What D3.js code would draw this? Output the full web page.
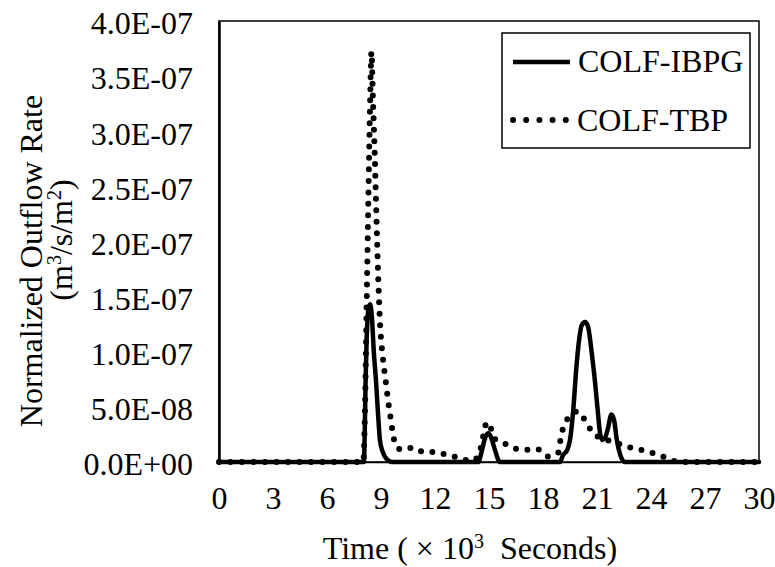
<!DOCTYPE html>
<html>
<head>
<meta charset="utf-8">
<script src="https://cdn.jsdelivr.net/npm/d3@7"></script>
<style>
  html, body { margin: 0; padding: 0; background: #fff; }
  svg { display: block; }
  text { font-family: "Liberation Serif", "Times New Roman", serif; fill: #000; }
</style>
</head>
<body>
<svg id="chart" width="775" height="567"></svg>
<script>
// ---- Data (time in 10^3 s, rate in m3/s/m2) ----
const ibpgTime = [0, 8.05, 8.1, 8.14, 8.2, 8.3, 8.4, 8.5, 8.6, 8.72, 8.85, 8.94, 9.1, 9.3, 9.6,
  14.4, 14.6, 14.75, 14.95, 15.1, 15.33, 15.6,
  18.95, 19.1, 19.35, 19.5, 19.68, 19.85, 20.0, 20.15, 20.33, 20.5, 20.7, 20.9, 21.05, 21.17, 21.3,
  21.45, 21.6, 21.8, 21.95, 22.1, 22.3, 22.55, 30];
const ibpgRate = [0, 0, 0.3e-7, 0.7e-7, 1.1e-7, 1.38e-7, 1.43e-7, 1.3e-7, 1.0e-7, 0.74e-7, 0.4e-7, 0.2e-7, 0.09e-7, 0.03e-7, 0,
  0, 0.1e-7, 0.2e-7, 0.26e-7, 0.23e-7, 0.11e-7, 0,
  0, 0.06e-7, 0.11e-7, 0.2e-7, 0.47e-7, 0.85e-7, 1.1e-7, 1.24e-7, 1.27e-7, 1.23e-7, 1.0e-7, 0.71e-7, 0.45e-7, 0.26e-7, 0.2e-7,
  0.22e-7, 0.3e-7, 0.43e-7, 0.38e-7, 0.2e-7, 0.06e-7, 0, 0];

const tbpTime = [0, 8.02, 8.1, 8.2, 8.3, 8.4, 8.47, 8.55, 8.65, 8.75, 8.85, 8.95, 9.1, 9.25, 9.4, 9.55, 9.7, 9.9,
  10.2, 10.8, 11.4, 12.1, 12.7, 13.3, 14.0, 14.4, 14.7, 14.87, 15.06, 15.25, 15.85, 16.5, 17.1, 17.7,
  18.24, 18.85, 18.95, 19.1, 19.28, 19.6, 19.9, 20.37, 20.74, 21.35, 22.0, 22.6, 23.2, 23.9, 24.5, 25.1, 25.6, 30];
const tbpRate = [0, 0, 0.4e-7, 1.4e-7, 2.4e-7, 3.3e-7, 3.72e-7, 3.3e-7, 2.8e-7, 2.2e-7, 1.65e-7, 1.25e-7, 0.95e-7, 0.75e-7, 0.55e-7, 0.38e-7, 0.22e-7, 0.13e-7,
  0.11e-7, 0.13e-7, 0.09e-7, 0.09e-7, 0.06e-7, 0.04e-7, 0.01e-7, 0.05e-7, 0.25e-7, 0.36e-7, 0.33e-7, 0.22e-7, 0.17e-7, 0.12e-7, 0.11e-7, 0.115e-7,
  0.05e-7, 0.085e-7, 0.18e-7, 0.3e-7, 0.37e-7, 0.42e-7, 0.46e-7, 0.37e-7, 0.27e-7, 0.21e-7, 0.18e-7, 0.14e-7, 0.12e-7, 0.09e-7, 0.06e-7, 0.02e-7, 0, 0];

const xTicks = [0, 3, 6, 9, 12, 15, 18, 21, 24, 27, 30];
const yTicks = [0, 0.5e-7, 1.0e-7, 1.5e-7, 2.0e-7, 2.5e-7, 3.0e-7, 3.5e-7, 4.0e-7];
const yTickLabels = ["0.0E+00", "5.0E-08", "1.0E-07", "1.5E-07", "2.0E-07", "2.5E-07", "3.0E-07", "3.5E-07", "4.0E-07"];
const seriesNames = ["COLF-IBPG", "COLF-TBP"];

// ---- Layout ----
const L = 219, R = 759, T = 21, B = 462;
const FS = 32;
const svg = d3.select("#chart");

const x = d3.scaleLinear().domain([0, 30]).range([L, R]);
const y = d3.scaleLinear().domain([0, 4e-7]).range([B, T]);

// frame
svg.append("rect").attr("x", L).attr("y", T).attr("width", R - L).attr("height", B - T)
  .attr("fill", "none").attr("stroke", "#000").attr("stroke-width", 1.5);

// x axis
const xAxis = d3.axisBottom(x).tickValues(xTicks).tickSize(0).tickPadding(0).tickFormat(d3.format("d"));
const gx = svg.append("g").attr("transform", `translate(0,${B})`).call(xAxis);
gx.select(".domain").attr("stroke", "#000").attr("stroke-width", 1.5);
gx.selectAll("text").attr("font-size", FS).attr("font-family", "Liberation Serif")
  .attr("y", 47).attr("dy", 0);

// y axis
const yAxis = d3.axisLeft(y).tickValues(yTicks).tickSize(0).tickPadding(26)
  .tickFormat((d, i) => yTickLabels[i]);
const gy = svg.append("g").attr("transform", `translate(${L},0)`).call(yAxis);
gy.select(".domain").attr("stroke", "#000").attr("stroke-width", 2.5);
gy.selectAll("text").attr("font-size", FS).attr("font-family", "Liberation Serif").attr("dy", "0.4em");

// lines
const line = d3.line().x(d => x(d[0])).y(d => y(d[1])).curve(d3.curveMonotoneX);
const tbpData = tbpTime.map((t, i) => [t, tbpRate[i]]);
const ibpgData = ibpgTime.map((t, i) => [t, ibpgRate[i]]);

svg.append("path").datum(tbpData).attr("d", line)
  .attr("fill", "none").attr("stroke", "#000").attr("stroke-width", 6)
  .attr("stroke-linecap", "round").attr("stroke-dasharray", "0 11.5");

svg.append("path").datum(ibpgData).attr("d", line)
  .attr("fill", "none").attr("stroke", "#000").attr("stroke-width", 4.5)
  .attr("stroke-linejoin", "round").attr("stroke-linecap", "round");

// axis titles
svg.append("text").attr("x", 470).attr("y", 559).attr("text-anchor", "middle")
  .attr("font-size", FS)
  .html('Time ( × 10<tspan baseline-shift="super" font-size="20">3</tspan>  Seconds)')
  .attr("xml:space", "preserve").style("white-space", "pre");

svg.append("text").attr("transform", "translate(42,261) rotate(-90)").attr("text-anchor", "middle")
  .attr("font-size", FS).text("Normalized Outflow Rate");
svg.append("text").attr("transform", "translate(72,240) rotate(-90)").attr("text-anchor", "middle")
  .attr("font-size", FS)
  .html('(m<tspan baseline-shift="super" font-size="20">3</tspan>/s/m<tspan baseline-shift="super" font-size="20">2</tspan>)');

// legend
const lg = svg.append("g");
lg.append("rect").attr("x", 502).attr("y", 33).attr("width", 248).attr("height", 115)
  .attr("fill", "#fff").attr("stroke", "#000").attr("stroke-width", 1.5);
lg.append("line").attr("x1", 513).attr("x2", 570).attr("y1", 62).attr("y2", 62)
  .attr("stroke", "#000").attr("stroke-width", 4.5);
lg.append("line").attr("x1", 513).attr("x2", 566).attr("y1", 120).attr("y2", 120)
  .attr("stroke", "#000").attr("stroke-width", 6).attr("stroke-linecap", "round")
  .attr("stroke-dasharray", "0 13.2");
lg.append("text").attr("x", 578).attr("y", 72).attr("font-size", FS).text(seriesNames[0]);
lg.append("text").attr("x", 577).attr("y", 131).attr("font-size", FS).text(seriesNames[1]);
</script>
</body>
</html>
